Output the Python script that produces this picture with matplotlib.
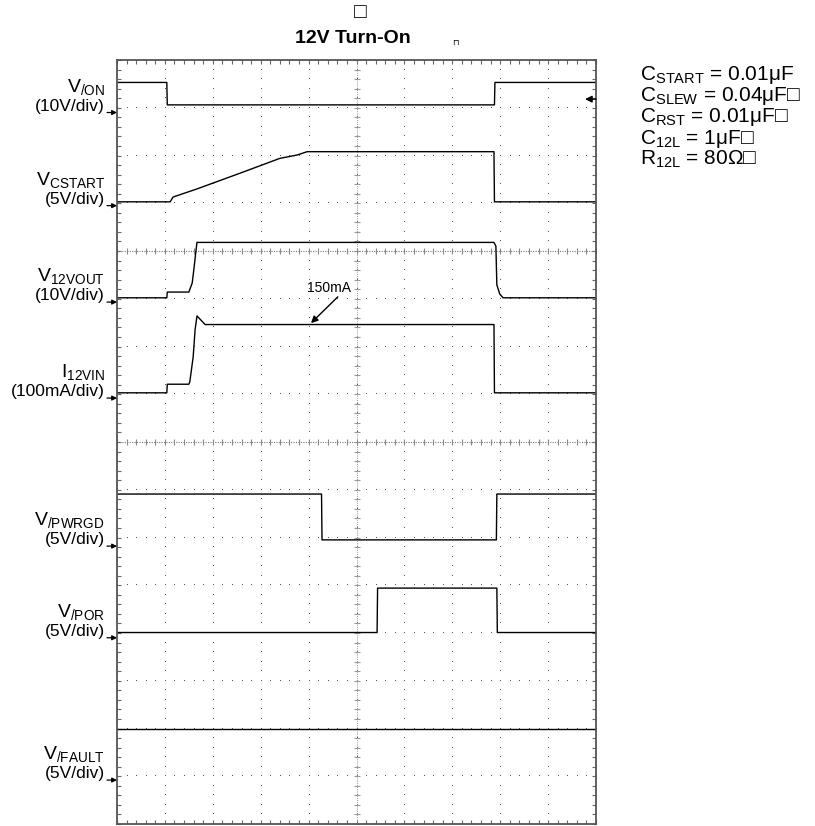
import matplotlib
matplotlib.use('Agg')
import matplotlib.pyplot as plt
import numpy as np

plt.rcParams['font.family'] = ['Liberation Sans', 'DejaVu Sans']
plt.rcParams['mathtext.fontset'] = 'custom'
plt.rcParams['mathtext.rm'] = 'Liberation Sans'
plt.rcParams['mathtext.it'] = 'Liberation Sans'
plt.rcParams['mathtext.default'] = 'regular'

# scope screen: time in divisions (10 across), level in divisions (16 up)
von_t = [0, 1.04, 1.05, 7.88, 7.89, 10]
von_v = [15.53, 15.53, 15.06, 15.06, 15.53, 15.53]

cstart_t = [0, 1.11, 1.17, 1.67, 2.57, 3.40, 3.76, 3.97, 7.87, 7.88, 10]
cstart_v = [13.03, 13.03, 13.13, 13.30, 13.63, 13.94, 14.01, 14.08, 14.08, 13.03, 13.03]

vout_t = [0, 1.04, 1.05, 1.50, 1.57, 1.61, 1.65, 1.67, 7.87, 7.91, 7.93, 7.99, 8.06, 10]
vout_v = [11.02, 11.02, 11.14, 11.14, 11.33, 11.66, 12.02, 12.18, 12.18, 12.10, 11.29, 11.10, 11.02, 11.02]

iin_t = [0, 1.04, 1.05, 1.50, 1.52, 1.59, 1.63, 1.67, 1.84, 7.87, 7.88, 10]
iin_v = [9.03, 9.03, 9.21, 9.21, 9.26, 9.78, 10.35, 10.64, 10.46, 10.46, 9.03, 9.03]

pwrgd_t = [0, 4.27, 4.28, 7.92, 7.93, 10]
pwrgd_v = [6.91, 6.91, 5.95, 5.95, 6.91, 6.91]

por_t = [0, 5.43, 5.44, 7.93, 7.94, 10]
por_v = [4.01, 4.01, 4.94, 4.94, 4.01, 4.01]

fault_t = [0, 10]
fault_v = [1.98, 1.98]

traces = [(von_t, von_v), (cstart_t, cstart_v), (vout_t, vout_v), (iin_t, iin_v),
          (pwrgd_t, pwrgd_v), (por_t, por_v), (fault_t, fault_v)]

names = [r'$V_{/ON}$', r'$V_{CSTART}$', r'$V_{12VOUT}$', r'$I_{12VIN}$',
         r'$V_{/PWRGD}$', r'$V_{/POR}$', r'$V_{/FAULT}$']
scales = ['(10V/div)', '(5V/div)', '(10V/div)', '(100mA/div)', '(5V/div)', '(5V/div)', '(5V/div)']
grounds = [14.90, 12.95, 10.93, 8.92, 5.82, 3.90, 0.92]

legend_lines = [r'$C_{START}$ = 0.01μF', r'$C_{SLEW}$ = 0.04μF□', r'$C_{RST}$ = 0.01μF□',
                r'$C_{12L}$ = 1μF□', r'$R_{12L}$ = 80Ω□']

fig = plt.figure(figsize=(8.15, 8.26), dpi=100)
ax = fig.add_axes([117/815, 2/826, 479/815, 764/826])
ax.set_xlim(0, 10)
ax.set_ylim(0, 16)

grid_col = '#555555'
# dotted graticule
for k in range(1, 10):
    ax.plot(np.full(81, k), np.arange(81) * 0.2, ls='none', marker=',', color=grid_col)
for j in range(1, 16):
    ax.plot(np.arange(51) * 0.2, np.full(51, j), ls='none', marker=',', color=grid_col)

# centre lines with small ticks
ax.axvline(5, color='#999999', lw=0.7, ls=(0, (1, 1.2)))
ax.plot(np.full(81, 5), np.arange(81) * 0.2, ls='none', marker='_', ms=5, mew=0.8, color='#999999')
for j in [8, 12]:
    ax.axhline(j, color='#777777', lw=0.8, ls=(0, (1, 1.2)))
    ax.plot(np.arange(51) * 0.2, np.full(51, j), ls='none', marker='|', ms=4, mew=0.8, color='#888888')

for t, v in traces:
    ax.plot(t, v, color='black', lw=1.0)

ax.set_xticks(np.arange(0, 10.01, 1))
ax.set_xticks(np.arange(0, 10.01, 0.2), minor=True)
ax.set_yticks(np.arange(0, 16.01, 1))
ax.set_yticks(np.arange(0, 16.01, 0.2), minor=True)
ax.tick_params(which='both', direction='in', length=3, width=0.8, color='#666666',
               top=True, right=True, labelbottom=False, labelleft=False)
for s in ax.spines.values():
    s.set_color('#555555')
    s.set_linewidth(1.3)

# channel labels and ground markers
for name, sc, g in zip(names, scales, grounds):
    ax.annotate('', xy=(0, g), xytext=(-10, 0), textcoords='offset pixels',
                arrowprops=dict(arrowstyle='-|>', color='black', lw=0.9, mutation_scale=7,
                                shrinkA=0, shrinkB=0),
                annotation_clip=False)
    ax.annotate(sc, xy=(0, g), xytext=(-12, 2), textcoords='offset pixels',
                ha='right', va='baseline', fontsize=12.5, annotation_clip=False)
    ax.annotate(name, xy=(0, g), xytext=(-12, 21), textcoords='offset pixels',
                ha='right', va='baseline', fontsize=14, annotation_clip=False)

# trigger marker
ax.annotate('', xy=(9.77, 15.18), xytext=(10, 15.18),
            arrowprops=dict(arrowstyle='-|>', color='black', lw=1.0, mutation_scale=10,
                            shrinkA=0, shrinkB=0))

# 150mA callout
ax.text(4.43, 11.22, '150mA', ha='center', va='center', fontsize=10)
ax.annotate('', xy=(4.05, 10.49), xytext=(4.61, 11.04),
            arrowprops=dict(arrowstyle='-|>', color='black', lw=1.0, mutation_scale=10,
                            shrinkA=0, shrinkB=0))

fig.text(353/815, 1 - 38.5/826, '12V Turn-On', ha='center', va='center',
         fontsize=14, fontweight='bold')
fig.text(360/815, 1 - 12.5/826, '□', ha='center', va='center', fontsize=15)
fig.text(455/815, 1 - 43/826, '⊓', ha='center', va='center', fontsize=6)

for i, line in enumerate(legend_lines):
    fig.text(640/815, 1 - (80 + 21.25 * i)/826, line, ha='left', va='baseline', fontsize=15)

fig.savefig('out.png', dpi=100)
